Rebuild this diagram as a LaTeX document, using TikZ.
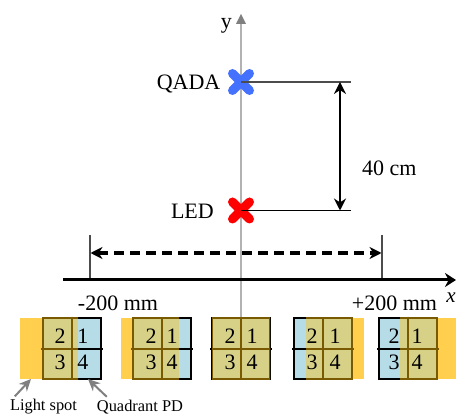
\documentclass[tikz,border=0pt]{standalone}
\usepackage{fontspec}
\setmainfont{Liberation Serif}
\usepackage{xcolor}
\usetikzlibrary{arrows.meta, positioning, shapes.misc}
\definecolor{pdblue}{RGB}{182,220,232}
\definecolor{spotyellow}{RGB}{255,207,77}
\definecolor{overlapolive}{RGB}{215,209,136}
\definecolor{overlapline}{RGB}{122,90,0}
\definecolor{qadablue}{RGB}{68,114,255}

\begin{document}
\begin{tikzpicture}[
  x=1pt, y=-1pt,
  lbl/.style={inner sep=0pt, font=\fontsize{22}{24}\selectfont},
  smalllbl/.style={inner sep=0pt, font=\fontsize{16.4}{18}\selectfont},
  crossmark/.style={cross out, line width=9pt, line cap=round,
    minimum size=17pt, inner sep=0pt, outer sep=0pt},
  guide/.style={draw=black!70, line width=1.2pt},
  dimarrow/.style={{Stealth[length=12pt,width=12pt]}-{Stealth[length=12pt,width=12pt]}},
  pointer/.style={-{Stealth[length=12pt,width=11pt]}, draw=black!50, line width=2pt},
  pdframe/.style={line width=2.4pt}
]
\useasboundingbox (0,0) rectangle (456,414);

% Axes
\coordinate (ybot) at (241,330);
\coordinate (ytop) at (241,14);
\coordinate (xleft) at (63,280);
\coordinate (xright) at (456,280);
\draw[draw=black!30, line width=2pt] (ybot) -- (241,24);
\fill[black!50] (ytop) -- (246,24) -- (236,24) -- cycle;
\node[lbl, anchor=east] (ylabel) at (232,26) {y};

% Sources
\node[crossmark, draw=qadablue] (qada) at (241,82) {};
\node[crossmark, draw=red] (led) at (241,210.5) {};
\node[lbl, left=12pt of qada, yshift=-2.5pt] (qadalabel) {QADA};
\node[lbl, left=18.5pt of led, yshift=-1pt] (ledlabel) {LED};

% Height between the sources
\coordinate (qadaend) at (351,82);
\coordinate (ledend) at (351,210.5);
\coordinate (dimtop) at (340,82);
\coordinate (dimbot) at (340,210.5);
\draw[guide] (qada.center) -- (qadaend);
\draw[guide, draw=black] (led.center) -- (ledend);
\draw[dimarrow, line width=1.4pt] (dimtop) -- (dimbot);
\node[lbl, anchor=west] (height) at (362,168) {40 cm};

% Travel along x
\coordinate (lefttop) at (90,235);
\coordinate (leftbot) at (90,280);
\coordinate (righttop) at (382,235);
\coordinate (rightbot) at (382,280);
\draw[guide] (lefttop) -- (leftbot);
\draw[guide] (righttop) -- (rightbot);
\draw[dimarrow, line width=3.2pt, dash pattern=on 10pt off 6pt] (90.5,253) -- (381.5,253);
\draw[-{Stealth[length=11pt,width=14pt]}, line width=3pt] (xleft) -- (xright);
\node[lbl] (minus) at (118,303) {-200 mm};
\node[lbl] (plus) at (394.5,303) {+200 mm};
\node[lbl, font=\fontsize{21}{24}\selectfont\itshape] (xlabel) at (451,298) {x};

% Detector at each position
\foreach \n/\px/\sl/\sr/\dl/\dr in {
  a/43/20/78/60/83,
  b/133/121/179/151/172,
  c/212/212/270/230/252,
  d/294/306/364/312/335,
  e/379/400/456/394/417} {
  \pgfmathsetmacro{\pr}{\px+58}
  \pgfmathsetmacro{\pv}{\px+29}
  \fill[pdblue] (\px,318) rectangle (\pr,379);
  \fill[spotyellow] (\sl,318) rectangle (\sr,379);
  \begin{scope}
    \clip (\px,318) rectangle (\pr,379);
    \fill[overlapolive] (\sl,318) rectangle (\sr,379);
  \end{scope}
  \draw[pdframe] (\px,318) rectangle (\pr,379);
  \draw[pdframe] (\pv,317) -- (\pv,380);
  \draw[pdframe] (\px-2,349) -- (\pr+2,349);
  \begin{scope}
    \clip (\sl,310) rectangle (\sr,390);
    \draw[pdframe, draw=overlapline] (\px,318) rectangle (\pr,379);
    \draw[pdframe, draw=overlapline] (\pv,317) -- (\pv,380);
    \draw[pdframe, draw=overlapline] (\px-2,349) -- (\pr+2,349);
  \end{scope}
  \node[lbl] (q2\n) at (\dl,336) {2};
  \node[lbl] (q1\n) at (\dr,336) {1};
  \node[lbl] (q3\n) at (\dl,362) {3};
  \node[lbl] (q4\n) at (\dr,362) {4};
}

% Callouts
\node[smalllbl] (lightspot) at (43.5,407) {Light spot};
\node[smalllbl] (quadrant) at (140,407) {Quadrant PD};
\coordinate (spottip) at (31,379);
\coordinate (pdtip) at (88,379);
\draw[pointer] ([xshift=5pt,yshift=3pt]lightspot.north west) -- (spottip);
\draw[pointer] ([xshift=10pt,yshift=3pt]quadrant.north west) -- (pdtip);
\end{tikzpicture}
\end{document}
